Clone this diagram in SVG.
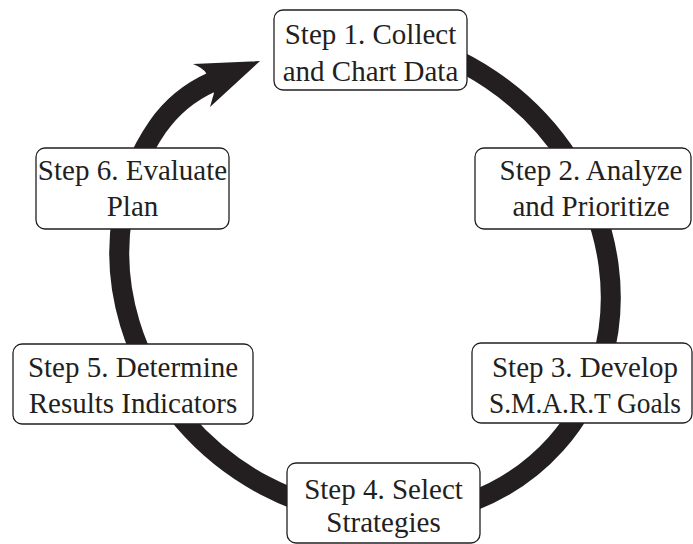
<svg xmlns="http://www.w3.org/2000/svg" width="693" height="544" viewBox="0 0 693 544">
<style>
.box{fill:#fff;stroke:#231f20;stroke-width:1.3}
.t{font-family:"Liberation Serif","Times New Roman",serif;font-size:29px;fill:#231f20;text-anchor:middle}
.ring{fill:none;stroke:#231f20;stroke-width:20}
</style>
<rect width="693" height="544" fill="#fff"/>
<g id="connectors">
<path class="ring" d="M 396.5 39.1 A 255 232 40 1 1 157.4 127.2 C 171.6 106.6 189.2 92.2 212 82"/>
<path d="M 260 61 L 193 64 Q 203 68 206 73 L 214 93 Q 212 100 210 107 Z" fill="#231f20"/>
</g>
<g id="step1">
<rect class="box" x="274" y="10" width="193" height="80" rx="9"/>
<text class="t" x="370.5" y="44">Step 1. Collect</text>
<text class="t" x="370.5" y="80.5">and Chart Data</text>
</g>
<g id="step2">
<rect class="box" x="475" y="148" width="216" height="81" rx="9"/>
<text class="t" x="591" y="180">Step 2. Analyze</text>
<text class="t" x="591" y="216">and Prioritize</text>
</g>
<g id="step3">
<rect class="box" x="472" y="343" width="220" height="80" rx="9"/>
<text class="t" x="585" y="376.5">Step 3. Develop</text>
<text class="t" x="585" y="412.5" textLength="192" lengthAdjust="spacingAndGlyphs">S.M.A.R.T Goals</text>
</g>
<g id="step4">
<rect class="box" x="287" y="463" width="193" height="80" rx="9"/>
<text class="t" x="383.5" y="499">Step 4. Select</text>
<text class="t" x="383.5" y="532">Strategies</text>
</g>
<g id="step5">
<rect class="box" x="13" y="344" width="240" height="80" rx="9"/>
<text class="t" x="133" y="376.5">Step 5. Determine</text>
<text class="t" x="133" y="413">Results Indicators</text>
</g>
<g id="step6">
<rect class="box" x="36" y="148" width="193" height="81" rx="9"/>
<text class="t" x="132.5" y="180">Step 6. Evaluate</text>
<text class="t" x="132.5" y="216">Plan</text>
</g>
</svg>
